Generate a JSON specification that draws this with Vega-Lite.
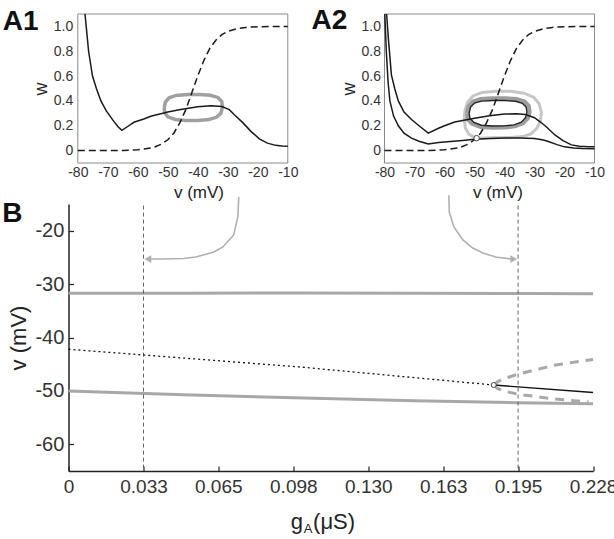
{
  "$schema": "https://vega.github.io/schema/vega-lite/v6.json",
  "padding": {"left": 1.5, "top": 6, "right": 0, "bottom": 0},
  "spacing": -9,
  "config": {
    "font": "Liberation Sans",
    "view": {"stroke": null},
    "axis": {"grid": false, "labelFlush": false, "labelOverlap": false, "titleFontWeight": "normal", "labelColor": "#333", "titleColor": "#222"}
  },
  "datasets": {
    "a1_null": [
      {"v": -77.6, "w": 1.1}, {"v": -77.0, "w": 0.95}, {"v": -76.4, "w": 0.8}, {"v": -75.1, "w": 0.6}, {"v": -73.8, "w": 0.5},
      {"v": -72.3, "w": 0.4}, {"v": -70.5, "w": 0.32}, {"v": -68, "w": 0.235}, {"v": -66.5, "w": 0.19}, {"v": -65.3, "w": 0.163},
      {"v": -63, "w": 0.2}, {"v": -61.3, "w": 0.228}, {"v": -58, "w": 0.255}, {"v": -55.7, "w": 0.276}, {"v": -50, "w": 0.31},
      {"v": -45.7, "w": 0.33}, {"v": -40, "w": 0.353}, {"v": -35.7, "w": 0.362}, {"v": -32, "w": 0.355}, {"v": -29.5, "w": 0.33},
      {"v": -27.9, "w": 0.29}, {"v": -25, "w": 0.225}, {"v": -22.3, "w": 0.155}, {"v": -19.5, "w": 0.095}, {"v": -16.8, "w": 0.06},
      {"v": -14, "w": 0.042}, {"v": -12, "w": 0.036}, {"v": -10, "w": 0.035}
    ],
    "winf": [
      {"v": -80, "w": 0}, {"v": -70, "w": 0.0004}, {"v": -65, "w": 0.0015}, {"v": -60, "w": 0.006}, {"v": -55, "w": 0.023},
      {"v": -52, "w": 0.053}, {"v": -50, "w": 0.087}, {"v": -48, "w": 0.14}, {"v": -46, "w": 0.223}, {"v": -44, "w": 0.33},
      {"v": -42, "w": 0.465}, {"v": -40, "w": 0.603}, {"v": -38, "w": 0.725}, {"v": -36, "w": 0.823}, {"v": -34, "w": 0.888},
      {"v": -32, "w": 0.934}, {"v": -30, "w": 0.959}, {"v": -27, "w": 0.982}, {"v": -24, "w": 0.992}, {"v": -20, "w": 0.998}, {"v": -10, "w": 1.0}
    ],
    "a1_cyc": [
      {"i": 0, "v": -51.2, "w": 0.345}, {"i": 1, "v": -50.8, "w": 0.39}, {"i": 2, "v": -49.6, "w": 0.425}, {"i": 3, "v": -47.2, "w": 0.444},
      {"i": 4, "v": -43.5, "w": 0.452}, {"i": 5, "v": -39.5, "w": 0.452}, {"i": 6, "v": -35.8, "w": 0.446}, {"i": 7, "v": -33.3, "w": 0.428},
      {"i": 8, "v": -32.0, "w": 0.395}, {"i": 9, "v": -31.8, "w": 0.35}, {"i": 10, "v": -32.3, "w": 0.3}, {"i": 11, "v": -33.8, "w": 0.268},
      {"i": 12, "v": -36.3, "w": 0.25}, {"i": 13, "v": -40, "w": 0.243}, {"i": 14, "v": -44, "w": 0.243}, {"i": 15, "v": -47.5, "w": 0.251},
      {"i": 16, "v": -50, "w": 0.272}, {"i": 17, "v": -51, "w": 0.305}, {"i": 18, "v": -51.2, "w": 0.345}
    ],
    "a2_up": [
      {"v": -79.3, "w": 1.1}, {"v": -78.7, "w": 0.9}, {"v": -77.7, "w": 0.61}, {"v": -76.6, "w": 0.5}, {"v": -75.4, "w": 0.4},
      {"v": -73.5, "w": 0.31}, {"v": -71, "w": 0.25}, {"v": -68.5, "w": 0.2}, {"v": -65.4, "w": 0.14}, {"v": -62, "w": 0.18},
      {"v": -60, "w": 0.2}, {"v": -56.6, "w": 0.23}, {"v": -50, "w": 0.26}, {"v": -45, "w": 0.28}, {"v": -40, "w": 0.295},
      {"v": -36, "w": 0.296}, {"v": -33, "w": 0.29}, {"v": -30, "w": 0.265}, {"v": -28, "w": 0.23}, {"v": -26, "w": 0.19},
      {"v": -23.2, "w": 0.126}, {"v": -20.5, "w": 0.08}, {"v": -17.7, "w": 0.046}, {"v": -15, "w": 0.035}, {"v": -12, "w": 0.03}, {"v": -10, "w": 0.03}
    ],
    "a2_lo": [
      {"v": -79.9, "w": 1.1}, {"v": -79.4, "w": 0.8}, {"v": -78.8, "w": 0.55}, {"v": -78.2, "w": 0.4}, {"v": -77, "w": 0.28},
      {"v": -75.4, "w": 0.2}, {"v": -73.5, "w": 0.14}, {"v": -71, "w": 0.1}, {"v": -68.5, "w": 0.075}, {"v": -65.4, "w": 0.054},
      {"v": -62, "w": 0.065}, {"v": -58, "w": 0.073}, {"v": -54, "w": 0.082}, {"v": -50, "w": 0.092}, {"v": -45, "w": 0.098},
      {"v": -40, "w": 0.101}, {"v": -35, "w": 0.102}, {"v": -30, "w": 0.098}, {"v": -27, "w": 0.085}, {"v": -25.4, "w": 0.073},
      {"v": -22.5, "w": 0.048}, {"v": -20, "w": 0.03}, {"v": -17, "w": 0.02}, {"v": -14, "w": 0.016}, {"v": -10, "w": 0.014}
    ],
    "a2_out": [
      {"i": 0, "v": -49.5, "w": 0.1}, {"i": 1, "v": -51.8, "w": 0.13}, {"i": 2, "v": -53.0, "w": 0.18}, {"i": 3, "v": -53.4, "w": 0.25},
      {"i": 4, "v": -53.2, "w": 0.32}, {"i": 5, "v": -52.3, "w": 0.39}, {"i": 6, "v": -50.5, "w": 0.44}, {"i": 7, "v": -47.5, "w": 0.468},
      {"i": 8, "v": -43, "w": 0.478}, {"i": 9, "v": -38, "w": 0.477}, {"i": 10, "v": -33.5, "w": 0.462}, {"i": 11, "v": -30.3, "w": 0.43},
      {"i": 12, "v": -28.5, "w": 0.38}, {"i": 13, "v": -27.7, "w": 0.31}, {"i": 14, "v": -28, "w": 0.24}, {"i": 15, "v": -29.2, "w": 0.18},
      {"i": 16, "v": -31.2, "w": 0.135}, {"i": 17, "v": -34, "w": 0.113}, {"i": 18, "v": -38, "w": 0.105}, {"i": 19, "v": -44, "w": 0.103},
      {"i": 20, "v": -49.5, "w": 0.1}
    ],
    "a2_mid": [
      {"i": 0, "v": -52.5, "w": 0.3}, {"i": 1, "v": -52.0, "w": 0.355}, {"i": 2, "v": -50.5, "w": 0.395}, {"i": 3, "v": -48, "w": 0.415},
      {"i": 4, "v": -44, "w": 0.422}, {"i": 5, "v": -40, "w": 0.422}, {"i": 6, "v": -36, "w": 0.415}, {"i": 7, "v": -33.3, "w": 0.395},
      {"i": 8, "v": -31.9, "w": 0.36}, {"i": 9, "v": -31.6, "w": 0.31}, {"i": 10, "v": -32.2, "w": 0.26}, {"i": 11, "v": -33.8, "w": 0.22},
      {"i": 12, "v": -36.5, "w": 0.195}, {"i": 13, "v": -40, "w": 0.185}, {"i": 14, "v": -44, "w": 0.183}, {"i": 15, "v": -48, "w": 0.19},
      {"i": 16, "v": -50.8, "w": 0.215}, {"i": 17, "v": -52.2, "w": 0.25}, {"i": 18, "v": -52.5, "w": 0.3}
    ],
    "a2_in": [
      {"i": 0, "v": -51.8, "w": 0.3}, {"i": 1, "v": -51.3, "w": 0.35}, {"i": 2, "v": -50, "w": 0.383}, {"i": 3, "v": -47.7, "w": 0.398},
      {"i": 4, "v": -44, "w": 0.403}, {"i": 5, "v": -40, "w": 0.403}, {"i": 6, "v": -36.3, "w": 0.397}, {"i": 7, "v": -34, "w": 0.38},
      {"i": 8, "v": -32.8, "w": 0.352}, {"i": 9, "v": -32.5, "w": 0.31}, {"i": 10, "v": -33, "w": 0.265}, {"i": 11, "v": -34.4, "w": 0.228},
      {"i": 12, "v": -36.8, "w": 0.207}, {"i": 13, "v": -40, "w": 0.199}, {"i": 14, "v": -44, "w": 0.198}, {"i": 15, "v": -47.7, "w": 0.204},
      {"i": 16, "v": -50.2, "w": 0.226}, {"i": 17, "v": -51.5, "w": 0.26}, {"i": 18, "v": -51.8, "w": 0.3}
    ],
    "a2_fp": [{"v": -49.3, "w": 0.1}],
    "b_gray": [
      {"s": "u", "g": 0, "v": -31.7}, {"s": "u", "g": 0.05, "v": -31.7}, {"s": "u", "g": 0.1, "v": -31.65}, {"s": "u", "g": 0.15, "v": -31.7}, {"s": "u", "g": 0.2, "v": -31.75}, {"s": "u", "g": 0.228, "v": -31.8},
      {"s": "l", "g": 0, "v": -50.0}, {"s": "l", "g": 0.02, "v": -50.3}, {"s": "l", "g": 0.05, "v": -50.7}, {"s": "l", "g": 0.098, "v": -51.3}, {"s": "l", "g": 0.15, "v": -51.85}, {"s": "l", "g": 0.195, "v": -52.2}, {"s": "l", "g": 0.228, "v": -52.4}
    ],
    "b_dot": [{"g": 0, "v": -42.2}, {"g": 0.1, "v": -45.5}, {"g": 0.1848, "v": -48.9}],
    "b_blk": [{"g": 0.1848, "v": -48.9}, {"g": 0.228, "v": -50.3}],
    "b_dash": [
      {"s": "u", "g": 0.1848, "v": -48.9}, {"s": "u", "g": 0.1865, "v": -48.3}, {"s": "u", "g": 0.1885, "v": -47.8}, {"s": "u", "g": 0.1951, "v": -46.9}, {"s": "u", "g": 0.211, "v": -45.2}, {"s": "u", "g": 0.228, "v": -44.1},
      {"s": "l", "g": 0.1848, "v": -48.9}, {"s": "l", "g": 0.1864, "v": -49.55}, {"s": "l", "g": 0.19, "v": -50.1}, {"s": "l", "g": 0.1951, "v": -50.6}, {"s": "l", "g": 0.211, "v": -51.5}, {"s": "l", "g": 0.226, "v": -52.05}
    ],
    "b_hopf": [{"g": 0.1848, "v": -48.9}],
    "b_vl": [{"g": 0.0326}, {"g": 0.1954}],
    "b_arr": [
      {"s": "a", "i": 0, "g": 0.074, "v": -13.69}, {"s": "a", "i": 1, "g": 0.0736, "v": -17.43}, {"s": "a", "i": 2, "g": 0.0718, "v": -20.8},
      {"s": "a", "i": 3, "g": 0.0671, "v": -23.05}, {"s": "a", "i": 4, "g": 0.0632, "v": -23.99}, {"s": "a", "i": 5, "g": 0.0553, "v": -24.93},
      {"s": "a", "i": 6, "g": 0.0501, "v": -25.2}, {"s": "a", "i": 7, "g": 0.0401, "v": -25.3}, {"s": "a", "i": 8, "g": 0.0355, "v": -25.3},
      {"s": "b", "i": 0, "g": 0.1653, "v": -13.37}, {"s": "b", "i": 1, "g": 0.1655, "v": -16.5}, {"s": "b", "i": 2, "g": 0.1675, "v": -19.3},
      {"s": "b", "i": 3, "g": 0.1714, "v": -21.74}, {"s": "b", "i": 4, "g": 0.1757, "v": -23.24}, {"s": "b", "i": 5, "g": 0.1801, "v": -24.18},
      {"s": "b", "i": 6, "g": 0.1857, "v": -24.93}, {"s": "b", "i": 7, "g": 0.1925, "v": -25.3}
    ],
    "b_headl": [{"g": 0.0345, "v": -25.3}],
    "b_headr": [{"g": 0.1935, "v": -25.3}]
  },
  "vconcat": [
    {
      "spacing": 96,
      "bounds": "flush",
      "hconcat": [
        {
          "width": 219.3,
          "height": 149,
          "resolve": {"axis": {"x": "independent", "y": "independent"}},
          "layer": [
            {"data": {"name": "a1_cyc"}, "mark": {"type": "line", "color": "#a0a0a0", "strokeWidth": 3.5},
              "encoding": {
                "x": {"field": "v", "type": "quantitative", "scale": {"domain": [-83.1, -10], "nice": false, "zero": false},
                  "axis": {"values": [-80, -70, -60, -50, -40, -30, -20, -10], "labelExpr": "'' + datum.value", "domain": false, "ticks": false, "labelOverlap": false, "labelFlush": false, "labelFontSize": 14, "labelPadding": 2.5, "title": "v (mV)", "titleFontSize": 17, "titleFontWeight": "normal", "titlePadding": 5, "titleX": 130}},
                "y": {"field": "w", "type": "quantitative", "scale": {"domain": [-0.1, 1.1], "nice": false, "zero": false},
                  "axis": {"values": [0, 0.2, 0.4, 0.6, 0.8, 1.0], "labelExpr": "datum.value == 0 ? '0' : format(datum.value, '.1f')", "domain": false, "ticks": false, "labelOverlap": false, "labelFlush": false, "offset": -9.3, "labelFontSize": 14, "labelPadding": 5, "title": "w", "titleFontSize": 18, "titleFontWeight": "normal", "titlePadding": 3}},
                "order": {"field": "i"}}},
            {"data": {"values": [{"k": 1}]}, "mark": {"type": "rect", "fillOpacity": 0, "stroke": "#8a8a8a", "strokeWidth": 1},
              "encoding": {"x": {"datum": -80, "type": "quantitative", "axis": null}, "x2": {"datum": -10}, "y": {"datum": -0.1, "type": "quantitative", "axis": null}, "y2": {"datum": 1.1}}},
            {"data": {"name": "a1_null"}, "mark": {"type": "line", "color": "#1a1a1a", "strokeWidth": 1.5},
              "encoding": {"x": {"field": "v", "type": "quantitative", "axis": null}, "y": {"field": "w", "type": "quantitative", "axis": null}}},
            {"data": {"name": "winf"}, "mark": {"type": "line", "color": "#1a1a1a", "strokeWidth": 1.5, "strokeDash": [7, 4]},
              "encoding": {"x": {"field": "v", "type": "quantitative", "axis": null}, "y": {"field": "w", "type": "quantitative", "axis": null}}},
            {"data": {"values": [{"t": "A1"}]}, "mark": {"type": "text", "fontSize": 28, "fontWeight": "bold", "align": "left", "baseline": "alphabetic", "color": "#111"},
              "encoding": {"x": {"datum": -105, "type": "quantitative", "axis": null}, "y": {"datum": 0.975, "type": "quantitative", "axis": null}, "text": {"field": "t"}}}
          ]
        },
        {
          "width": 210,
          "height": 149,
          "resolve": {"axis": {"x": "independent", "y": "independent"}},
          "layer": [
            {"data": {"name": "a2_out"}, "mark": {"type": "line", "color": "#c6c6c6", "strokeWidth": 3},
              "encoding": {
                "x": {"field": "v", "type": "quantitative", "scale": {"domain": [-80, -10], "nice": false, "zero": false},
                  "axis": {"values": [-80, -70, -60, -50, -40, -30, -20, -10], "labelExpr": "'' + datum.value", "domain": false, "ticks": false, "labelOverlap": false, "labelFlush": false, "labelFontSize": 14, "labelPadding": 2.5, "title": "v (mV)", "titleFontSize": 17, "titleFontWeight": "normal", "titlePadding": 5, "titleX": 113}},
                "y": {"field": "w", "type": "quantitative", "scale": {"domain": [-0.1, 1.1], "nice": false, "zero": false},
                  "axis": {"values": [0, 0.2, 0.4, 0.6, 0.8, 1.0], "labelExpr": "datum.value == 0 ? '0' : format(datum.value, '.1f')", "domain": false, "ticks": false, "labelOverlap": false, "labelFlush": false, "labelFontSize": 14, "labelPadding": 4, "title": "w", "titleFontSize": 18, "titleFontWeight": "normal", "titlePadding": 3}},
                "order": {"field": "i"}}},
            {"data": {"values": [{"k": 1}]}, "mark": {"type": "rect", "fillOpacity": 0, "stroke": "#8a8a8a", "strokeWidth": 1},
              "encoding": {"x": {"datum": -80, "type": "quantitative", "axis": null}, "x2": {"datum": -10}, "y": {"datum": -0.1, "type": "quantitative", "axis": null}, "y2": {"datum": 1.1}}},
            {"data": {"name": "a2_mid"}, "mark": {"type": "line", "color": "#9c9c9c", "strokeWidth": 4},
              "encoding": {"x": {"field": "v", "type": "quantitative", "axis": null}, "y": {"field": "w", "type": "quantitative", "axis": null}, "order": {"field": "i"}}},
            {"data": {"name": "a2_up"}, "mark": {"type": "line", "color": "#1a1a1a", "strokeWidth": 1.5},
              "encoding": {"x": {"field": "v", "type": "quantitative", "axis": null}, "y": {"field": "w", "type": "quantitative", "axis": null}}},
            {"data": {"name": "a2_lo"}, "mark": {"type": "line", "color": "#1a1a1a", "strokeWidth": 1.5},
              "encoding": {"x": {"field": "v", "type": "quantitative", "axis": null}, "y": {"field": "w", "type": "quantitative", "axis": null}}},
            {"data": {"name": "a2_in"}, "mark": {"type": "line", "color": "#222", "strokeWidth": 1.4},
              "encoding": {"x": {"field": "v", "type": "quantitative", "axis": null}, "y": {"field": "w", "type": "quantitative", "axis": null}, "order": {"field": "i"}}},
            {"data": {"name": "winf"}, "mark": {"type": "line", "color": "#1a1a1a", "strokeWidth": 1.5, "strokeDash": [7, 4]},
              "encoding": {"x": {"field": "v", "type": "quantitative", "axis": null}, "y": {"field": "w", "type": "quantitative", "axis": null}}},
            {"data": {"name": "a2_fp"}, "mark": {"type": "point", "filled": true, "fill": "white", "stroke": "#444", "strokeWidth": 1, "size": 30, "opacity": 1},
              "encoding": {"x": {"field": "v", "type": "quantitative", "axis": null}, "y": {"field": "w", "type": "quantitative", "axis": null}}},
            {"data": {"values": [{"t": "A2"}]}, "mark": {"type": "text", "fontSize": 28, "fontWeight": "bold", "align": "left", "baseline": "alphabetic", "color": "#111"},
              "encoding": {"x": {"datum": -104.3, "type": "quantitative", "axis": null}, "y": {"datum": 0.983, "type": "quantitative", "axis": null}, "text": {"field": "t"}}}
          ]
        }
      ]
    },
    {
      "width": 524.6,
      "height": 267,
      "layer": [
        {"data": {"name": "b_gray"}, "mark": {"type": "line", "color": "#a8a8a8", "strokeWidth": 3},
          "encoding": {
            "x": {"field": "g", "type": "quantitative", "scale": {"domain": [0, 0.228], "nice": false, "zero": false},
              "axis": {"values": [0, 0.0326, 0.0651, 0.0977, 0.1303, 0.1629, 0.1954, 0.228], "labelExpr": "datum.value == 0 ? '0' : format(datum.value, '.3f')", "labelOverlap": false, "labelFlush": false, "domainColor": "#222", "domainWidth": 1.5, "tickColor": "#222", "tickWidth": 1.2, "tickSize": -5, "labelFontSize": 19, "labelPadding": 11, "title": null}},
            "y": {"field": "v", "type": "quantitative", "scale": {"domain": [-65, -15], "nice": false, "zero": false},
              "axis": {"values": [-60, -50, -40, -30, -20], "labelExpr": "'' + datum.value", "labelOverlap": false, "labelFlush": false, "domainColor": "#222", "domainWidth": 1.5, "tickColor": "#222", "tickWidth": 1.2, "tickSize": -5, "labelFontSize": 20, "labelPadding": 9.7, "title": "v  (mV)", "titleFontSize": 22, "titleFontWeight": "normal", "titlePadding": 4}},
            "detail": {"field": "s"}}},
        {"data": {"name": "b_vl"}, "mark": {"type": "rule", "color": "#555", "strokeWidth": 0.9, "strokeDash": [4, 3]},
          "encoding": {"x": {"field": "g", "type": "quantitative"}, "y": {"datum": -15.3, "type": "quantitative"}, "y2": {"datum": -65}}},
        {"data": {"name": "b_dot"}, "mark": {"type": "line", "color": "#111", "strokeWidth": 1.3, "strokeDash": [2, 3]},
          "encoding": {"x": {"field": "g", "type": "quantitative"}, "y": {"field": "v", "type": "quantitative"}}},
        {"data": {"name": "b_dash"}, "mark": {"type": "line", "color": "#a8a8a8", "strokeWidth": 3, "strokeDash": [9, 7]},
          "encoding": {"x": {"field": "g", "type": "quantitative"}, "y": {"field": "v", "type": "quantitative"}, "detail": {"field": "s"}}},
        {"data": {"name": "b_blk"}, "mark": {"type": "line", "color": "#111", "strokeWidth": 1.4},
          "encoding": {"x": {"field": "g", "type": "quantitative"}, "y": {"field": "v", "type": "quantitative"}}},
        {"data": {"name": "b_hopf"}, "mark": {"type": "point", "filled": true, "fill": "white", "stroke": "#444", "strokeWidth": 1, "size": 25, "opacity": 1},
          "encoding": {"x": {"field": "g", "type": "quantitative"}, "y": {"field": "v", "type": "quantitative"}}},
        {"data": {"name": "b_arr"}, "mark": {"type": "line", "color": "#b0b0b0", "strokeWidth": 1.6},
          "encoding": {"x": {"field": "g", "type": "quantitative"}, "y": {"field": "v", "type": "quantitative"}, "detail": {"field": "s"}, "order": {"field": "i"}}},
        {"data": {"name": "b_headl"}, "mark": {"type": "point", "shape": "triangle-left", "filled": true, "color": "#b0b0b0", "size": 60, "opacity": 1},
          "encoding": {"x": {"field": "g", "type": "quantitative"}, "y": {"field": "v", "type": "quantitative"}}},
        {"data": {"name": "b_headr"}, "mark": {"type": "point", "shape": "triangle-right", "filled": true, "color": "#b0b0b0", "size": 60, "opacity": 1},
          "encoding": {"x": {"field": "g", "type": "quantitative"}, "y": {"field": "v", "type": "quantitative"}}},
        {"data": {"values": [{"t": "B"}]}, "mark": {"type": "text", "fontSize": 28, "fontWeight": "bold", "align": "left", "baseline": "alphabetic", "color": "#111"},
          "encoding": {"x": {"datum": -0.02877, "type": "quantitative"}, "y": {"datum": -18.37, "type": "quantitative"}, "text": {"field": "t"}}},
        {"data": {"values": [{"t": "g"}]}, "mark": {"type": "text", "fontSize": 22, "align": "left", "baseline": "alphabetic", "color": "#222"},
          "encoding": {"x": {"datum": 0.0966, "type": "quantitative"}, "y": {"datum": -75.86, "type": "quantitative"}, "text": {"field": "t"}}},
        {"data": {"values": [{"t": "A"}]}, "mark": {"type": "text", "fontSize": 13, "align": "left", "baseline": "alphabetic", "color": "#222"},
          "encoding": {"x": {"datum": 0.1022, "type": "quantitative"}, "y": {"datum": -76.6, "type": "quantitative"}, "text": {"field": "t"}}},
        {"data": {"values": [{"t": "(μS)"}]}, "mark": {"type": "text", "fontSize": 22, "align": "left", "baseline": "alphabetic", "color": "#222"},
          "encoding": {"x": {"datum": 0.1063, "type": "quantitative"}, "y": {"datum": -75.86, "type": "quantitative"}, "text": {"field": "t"}}}
      ]
    }
  ]
}
